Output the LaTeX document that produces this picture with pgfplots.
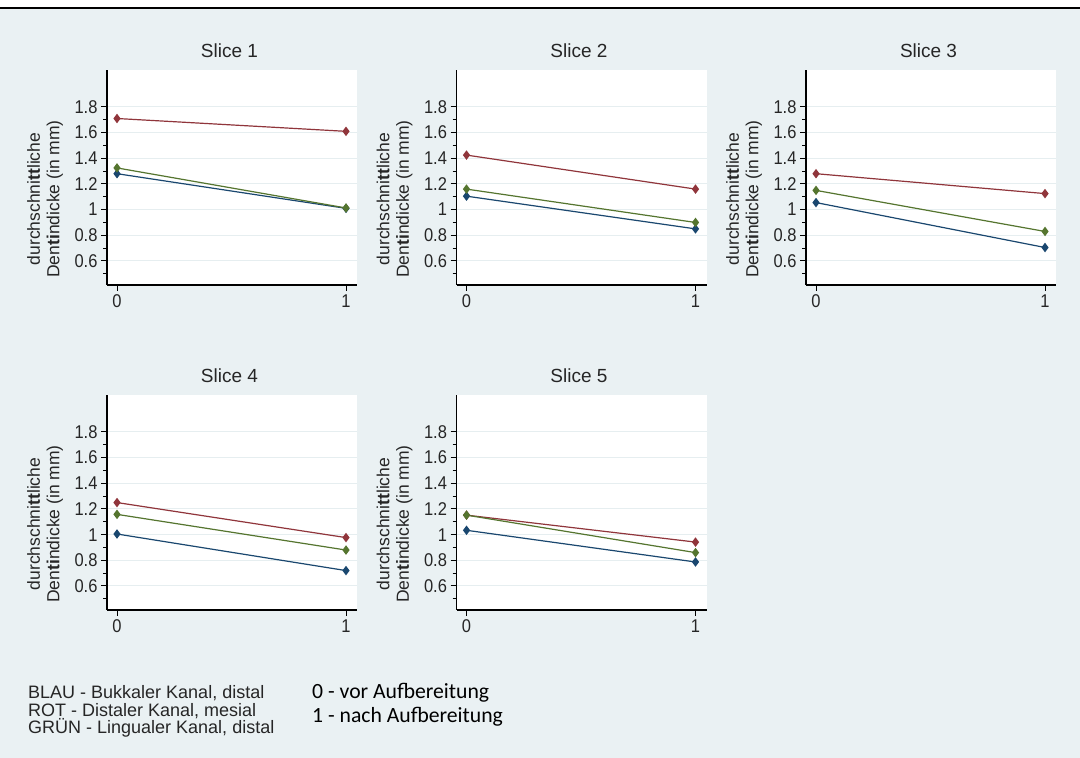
\documentclass[border=0pt]{standalone}
\usepackage{pgfplots}
\pgfplotsset{compat=1.18}
\usepackage{fontspec}
\setmainfont{Liberation Sans}
\newfontfamily\carlito{Carlito}
\definecolor{bg}{RGB}{234,241,243}
\definecolor{sblue}{RGB}{26,71,111}
\definecolor{sred}{RGB}{144,53,59}
\definecolor{sgreen}{RGB}{85,117,47}
\definecolor{gridc}{RGB}{230,238,240}
\newcommand\vs[1]{\scalebox{1}[1.12]{#1}}

\pgfplotsset{slice/.style={
  scale only axis, width=250bp, height=215bp, anchor=south west,
  xmin=-0.0437, xmax=1.048, ymin=0.413, ymax=2.088,
  axis x line*=bottom, axis y line*=left,
  axis line style={line width=1.2bp, black, -},
  axis background/.style={fill=white},
  xtick={0,1}, ytick={0.6,0.8,1,1.2,1.4,1.6,1.8},
  minor ytick={0.5,0.7,0.9,1.1,1.3,1.5,1.7},
  ymajorgrids, major grid style={draw=gridc, line width=1bp},
  tick style={black, line width=1bp},
  major tick length=6bp, minor tick length=4bp,
  tick align=outside,
  /pgf/number format/assume math mode=true,
  ticklabel style={font=\fontsize{16.5bp}{18bp}\selectfont, text=black!85},
  xticklabel={\vs{\pgfmathprintnumber{\tick}}},
  yticklabel={\vs{\pgfmathprintnumber{\tick}}},
  ylabel={durchschni\textbf{tt}liche\\Den\textbf{ti}ndicke (in mm)},
  ylabel style={align=center, font=\fontsize{17.5bp}{19.5bp}\selectfont, text=black!85,
     at={(axis description cs:-0.248,0.40)}, anchor=center},
  title style={font=\fontsize{19bp}{22bp}\selectfont, text=black!85,
     at={(axis description cs:0.49,1)}, anchor=base, yshift=7bp},
  clip=false,
},
sb/.style={sblue, line width=1.2bp, mark=diamond*, mark size=3.8bp},
sr/.style={sred, line width=1.2bp, mark=diamond*, mark size=3.8bp},
sg/.style={sgreen, line width=1.2bp, mark=diamond*, mark size=3.8bp},
}

\begin{document}
\begin{tikzpicture}[x=1bp,y=1bp]
\path[use as bounding box] (0,0) rectangle (1080,758);
\fill[white] (0,750) rectangle (1080,758);
\fill[bg] (0,0) rectangle (1080,750);
\draw[line width=2bp] (0,750) -- (1080,750);

\begin{axis}[slice, at={(107bp,473bp)}, title={Slice 1}]
\addplot[sb] coordinates {(0,1.28) (1,1.01)};
\addplot[sr] coordinates {(0,1.71) (1,1.61)};
\addplot[sg] coordinates {(0,1.325) (1,1.013)};
\end{axis}

\begin{axis}[slice, at={(456.5bp,473bp)}, title={Slice 2}]
\addplot[sb] coordinates {(0,1.105) (1,0.85)};
\addplot[sr] coordinates {(0,1.425) (1,1.16)};
\addplot[sg] coordinates {(0,1.16) (1,0.90)};
\end{axis}

\begin{axis}[slice, at={(806bp,473bp)}, title={Slice 3}]
\addplot[sb] coordinates {(0,1.055) (1,0.705)};
\addplot[sr] coordinates {(0,1.28) (1,1.125)};
\addplot[sg] coordinates {(0,1.15) (1,0.83)};
\end{axis}

\begin{axis}[slice, at={(107bp,148bp)}, title={Slice 4}]
\addplot[sb] coordinates {(0,1.005) (1,0.72)};
\addplot[sr] coordinates {(0,1.25) (1,0.977)};
\addplot[sg] coordinates {(0,1.158) (1,0.88)};
\end{axis}

\begin{axis}[slice, at={(456.5bp,148bp)}, title={Slice 5}]
\addplot[sb] coordinates {(0,1.034) (1,0.787)};
\addplot[sr] coordinates {(0,1.152) (1,0.942)};
\addplot[sg] coordinates {(0,1.152) (1,0.86)};
\end{axis}

\begin{scope}[every node/.style={anchor=base west, inner sep=0pt, text=black!85, font=\fontsize{18bp}{20bp}\selectfont}]
\node at (28bp,59bp) {BLAU - Bukkaler Kanal, distal};
\node at (28bp,41.5bp) {ROT - Distaler Kanal, mesial};
\node at (28bp,24bp) {GRÜN - Lingualer Kanal, distal};
\end{scope}
\begin{scope}[every node/.style={anchor=base west, inner sep=0pt, text=black, font=\carlito\fontsize{21.7bp}{24bp}\selectfont}]
\node at (312bp,59bp) {0 - vor Aufbereitung};
\node at (312bp,35bp) {1 - nach Aufbereitung};
\end{scope}
\end{tikzpicture}
\end{document}
